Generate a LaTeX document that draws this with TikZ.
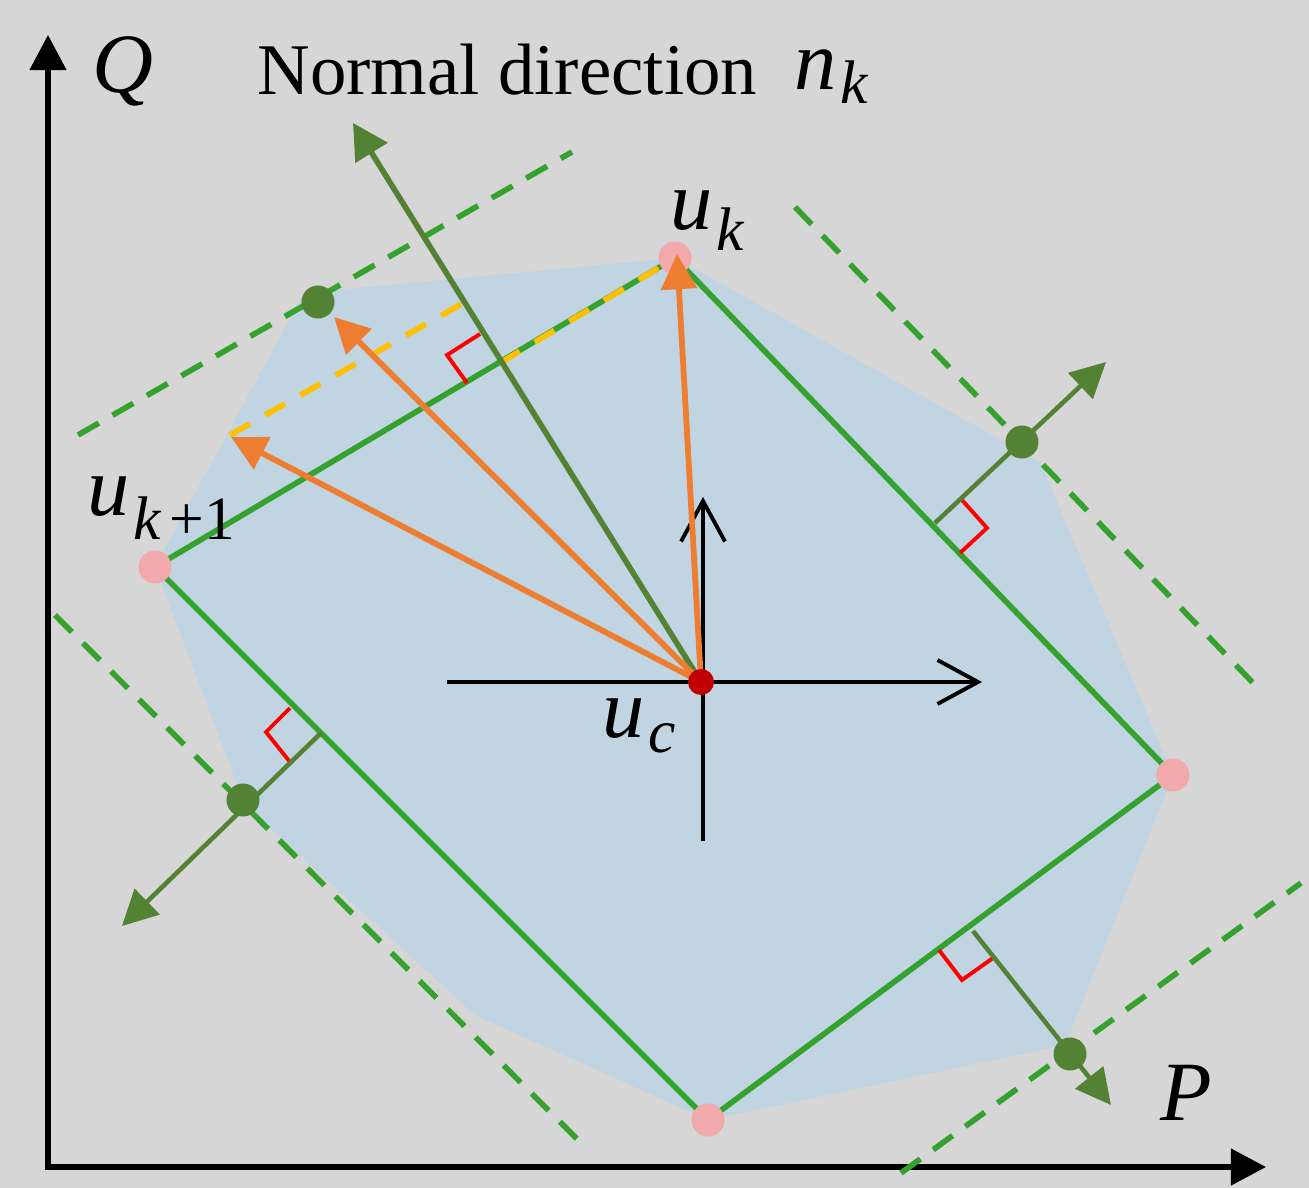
\documentclass[tikz,border=0pt]{standalone}
\usepackage{fontspec}
\setmainfont{Liberation Serif}
\usetikzlibrary{arrows.meta}
\definecolor{bggray}{HTML}{D6D6D6}
\definecolor{hull}{HTML}{C0D4E2}
\definecolor{boxgreen}{HTML}{35A12F}
\definecolor{nrmgreen}{HTML}{548235}
\definecolor{vecorange}{HTML}{ED7D31}
\definecolor{projgold}{HTML}{FFC000}
\definecolor{vertpink}{HTML}{F2A9AB}
\definecolor{centred}{HTML}{C00000}
\newcommand{\lowidx}[2]{\kern1pt\raisebox{-#1}{\fontsize{17.5}{17.5}\selectfont #2}}

\begin{document}
\begin{tikzpicture}[
  x=0.01cm, y=-0.01cm,
  every node/.style={inner sep=0pt},
  axis/.style={line width=1.5pt, {Triangle[length=10pt,width=10.2pt]}-{Triangle[length=10pt,width=10.2pt]}},
  box/.style={draw=boxgreen, line width=1.6pt},
  support/.style={draw=boxgreen, line width=1.6pt, dash pattern=on 6.8pt off 4.5pt},
  proj/.style={draw=projgold, line width=1.6pt, dash pattern=on 6.5pt off 5pt},
  vec/.style={vecorange, line width=1.65pt, -{Triangle[length=10pt,width=10pt]}},
  nrm/.style={nrmgreen, line width=1.6pt, -{Triangle[length=10pt,width=10.5pt]}},
  perp/.style={nrmgreen, line width=1.3pt, -{Triangle[length=10pt,width=10pt]}},
  rang/.style={red, line width=1.1pt},
  frame/.style={black, line width=1.1pt, -{Straight Barb[length=11.5pt,width=12.5pt]}},
  vertex/.style={circle, fill=vertpink, minimum size=0.33cm},
  touch/.style={circle, fill=nrmgreen, minimum size=0.33cm},
  lbl/.style={font=\fontsize{24}{24}\selectfont\itshape, anchor=base west},
]
  \fill[bggray] (0,0) rectangle (1309,1188);
  \useasboundingbox (0,0) rectangle (1309,1188);

  % P-Q axes
  \coordinate (origin) at (48,1167);
  \coordinate (qtip)   at (48,35);
  \coordinate (ptip)   at (1266,1167);
  \draw[axis] (qtip) -- (origin) -- (ptip);

  % feasible region
  \fill[hull] (304,293) -- (675,258) -- (1040,462) -- (1173,775) -- (1065,1045)
    -- (708,1120) -- (475,1015) -- (245,805) -- (155,567) -- cycle;

  % box corners and centre
  \coordinate (uk)  at (675,258);
  \coordinate (ukp) at (155,567);
  \coordinate (ur)  at (1173,775);
  \coordinate (ub)  at (708,1120);
  \coordinate (uc)  at (701,682);

  % supporting lines
  \coordinate (supTa) at (78,435);   \coordinate (supTb) at (572,152);
  \coordinate (supRa) at (795,207);  \coordinate (supRb) at (1255,685);
  \coordinate (supLa) at (55,615);   \coordinate (supLb) at (585,1147);
  \coordinate (supBa) at (901,1173); \coordinate (supBb) at (1301,883);
  \draw[support] (supTa) -- (supTb);
  \draw[support] (supRa) -- (supRb);
  \draw[support] (supLa) -- (supLb);
  \draw[support] (supBa) -- (supBb);

  % box edges
  \draw[box] (ukp) -- (uk) -- (ur) -- (ub) -- cycle;

  % projection
  \coordinate (projA) at (230,435);
  \coordinate (projB) at (465,302);
  \coordinate (projC) at (500,363);
  \draw[proj] (projA) -- (projB);
  \draw[proj] (projC) -- (uk);

  % right angles
  \draw[rang] (467,383) -- (447,355) -- (480,334);
  \draw[rang] (962,500) -- (987,528) -- (960,553);
  \draw[rang] (290,708) -- (266,732) -- (290,762);
  \draw[rang] (939,950) -- (962,980) -- (993,958);

  % outward normals of the other edges
  \coordinate (footR) at (935,523);  \coordinate (tipR) at (1106,362);
  \coordinate (footL) at (321,733);  \coordinate (tipL) at (122,926);
  \coordinate (footB) at (973,931);  \coordinate (tipB) at (1111,1105);
  \draw[perp] (footR) -- (tipR);
  \draw[perp] (footL) -- (tipL);
  \draw[perp] (footB) -- (tipB);

  % local frame at u_c
  \coordinate (crossW) at (447,682); \coordinate (crossE) at (982,682);
  \coordinate (crossS) at (703,841); \coordinate (crossN) at (703,497);
  \draw[frame] (crossW) -- (crossE);
  \draw[frame] (crossS) -- (crossN);

  % normal direction
  \coordinate (ntip) at (353,123);
  \draw[nrm] (uc) -- (ntip);

  % vertex dots
  \node[vertex] (ukdot)  at (uk)  {};
  \node[vertex] (ukpdot) at (ukp) {};
  \node[vertex] (urdot)  at (ur)  {};
  \node[vertex] (ubdot)  at (ub)  {};

  % search vectors
  \coordinate (vtipA) at (231,437);
  \coordinate (vtipB) at (334,317);
  \coordinate (vtipC) at (677,254);
  \draw[vec] (uc) -- (vtipA);
  \draw[vec] (uc) -- (vtipB);
  \draw[vec] (uc) -- (vtipC);

  % touching points
  \node[touch] (touchT) at (318,302)  {};
  \node[touch] (touchR) at (1022,442) {};
  \node[touch] (touchL) at (243,800)  {};
  \node[touch] (touchB) at (1070,1054) {};
  \node[circle, fill=centred, minimum size=0.26cm] (ucdot) at (uc) {};

  % labels
  \node[lbl] (labQ) at (92,93) {Q};
  \node[lbl] (labP) at (1160,1120) {P};
  \node[font=\fontsize{20.7}{20.7}\selectfont, anchor=base west] (labN) at (257,95) {Normal direction};
  \node[lbl] (labn)  at (794,90)  {n\lowidx{3.7pt}{k}};
  \node[lbl] (labuk) at (670,230) {u\lowidx{5.7pt}{k}};
  \node[lbl] (labukp) at (87,515) {u\lowidx{7pt}{k\kern2.5pt\upshape+1}};
  \node[lbl] (labuc) at (602,737) {u\lowidx{4.5pt}{c}};
\end{tikzpicture}
\end{document}
